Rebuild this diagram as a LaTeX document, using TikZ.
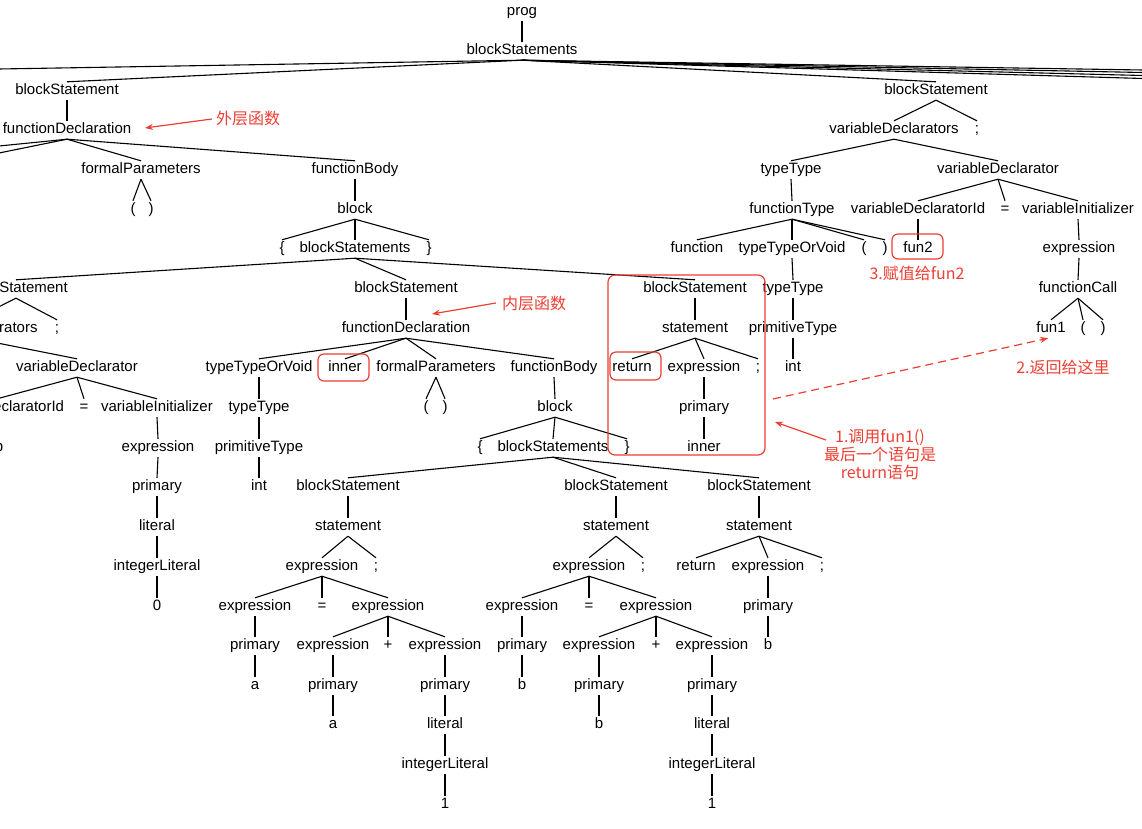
\documentclass[tikz,border=0pt]{standalone}
\usepackage{fontspec}
\setmainfont{Liberation Sans}
\newfontfamily\cjkfont{Noto Sans CJK SC}
\usetikzlibrary{arrows.meta}
\definecolor{annred}{RGB}{236,62,50}
\tikzset{
  tn/.style={inner xsep=0pt, inner ysep=2.25pt, text height=10.5pt, text depth=3pt, font=\fontsize{15}{18}\selectfont},
  ed/.style={line width=1.1pt, black},
  rbox/.style={draw=annred, line width=1.2pt, rounded corners=7pt},
  ann/.style={text=annred, inner sep=0pt, font=\cjkfont\fontsize{16}{18}\selectfont, align=center},
  rarrow/.style={draw=annred, line width=1.2pt, -{Stealth[length=8pt,width=6pt]}},
}
\begin{document}
\begin{tikzpicture}[x=1pt,y=-1pt]
\useasboundingbox (0,0) rectangle (1142,828);
\clip (0,0) rectangle (1142,828);
\begin{scope}[shift={(0,2)}]
% level 0-1
\node[tn] (pg) at (522,10) {prog};
\node[tn] (bs0) at (522,49) {blockStatements};
% level 2
\node[tn] (bsA) at (67,89) {blockStatement};
\node[tn] (bsB) at (936,89) {blockStatement};
% level 3
\node[tn] (fdA) at (67,128) {functionDeclaration};
\node[tn] (vdsB) at (894,128) {variableDeclarators};
\node[tn] (scB) at (977,128) {;};
% level 4
\node[tn] (fpA) at (141,168) {formalParameters};
\node[tn] (fbA) at (355,168) {functionBody};
\node[tn] (ttB) at (791,168) {typeType};
\node[tn] (vdB) at (998,168) {variableDeclarator};
% level 5
\node[tn] (lpA) at (133,208) {(};
\node[tn] (rpA) at (151,208) {)};
\node[tn] (blkA) at (355,208) {block};
\node[tn] (ftB) at (792,208) {functionType};
\node[tn] (vidB) at (918,208) {variableDeclaratorId};
\node[tn] (eqB) at (1005,208) {=};
\node[tn] (viB) at (1078,208) {variableInitializer};
% level 6
\node[tn] (lbA) at (282,247) {\{};
\node[tn] (bs1) at (355,247) {blockStatements};
\node[tn] (rbA) at (429,247) {\}};
\node[tn] (fnB) at (697,247) {function};
\node[tn] (ttvB) at (792,247) {typeTypeOrVoid};
\node[tn] (lpB) at (864,247) {(};
\node[tn] (rpB) at (885,247) {)};
\node[tn] (f2B) at (918,247) {fun2};
\node[tn] (exB) at (1079,247) {expression};
% level 7
\node[tn] (bsC) at (16,287) {blockStatement};
\node[tn] (bsD) at (406,287) {blockStatement};
\node[tn] (bsE) at (695,287) {blockStatement};
\node[tn] (tt2B) at (793,287) {typeType};
\node[tn] (fcB) at (1078,287) {functionCall};
% level 8
\node[tn] (vdsC) at (-27,327) {variableDeclarators};
\node[tn] (scC) at (57,327) {;};
\node[tn] (fdD) at (406,327) {functionDeclaration};
\node[tn] (stE) at (695,327) {statement};
\node[tn] (ptB) at (793,327) {primitiveType};
\node[tn] (f1B) at (1051,327) {fun1};
\node[tn] (lp2B) at (1083,327) {(};
\node[tn] (rp2B) at (1103,327) {)};
% level 9
\node[tn] (vdC) at (77,366) {variableDeclarator};
\node[tn] (ttvD) at (259,366) {typeTypeOrVoid};
\node[tn] (inD) at (345,366) {inner};
\node[tn] (fpD) at (436,366) {formalParameters};
\node[tn] (fbD) at (554,366) {functionBody};
\node[tn] (retE) at (632,366) {return};
\node[tn] (exE) at (704,366) {expression};
\node[tn] (scE) at (758,366) {;};
\node[tn] (intB) at (793,366) {int};
% level 10
\node[tn] (vidC) at (-3,406) {variableDeclaratorId};
\node[tn] (eqC) at (84,406) {=};
\node[tn] (viC) at (157,406) {variableInitializer};
\node[tn] (ttD) at (259,406) {typeType};
\node[tn] (lpD) at (426,406) {(};
\node[tn] (rpD) at (445,406) {)};
\node[tn] (blkD) at (555,406) {block};
\node[tn] (prE) at (704,406) {primary};
% level 11
\node[tn] (bC) at (-1,446) {b};
\node[tn] (exC) at (158,446) {expression};
\node[tn] (ptD) at (259,446) {primitiveType};
\node[tn] (lbD) at (480,446) {\{};
\node[tn] (bs2) at (553,446) {blockStatements};
\node[tn] (rbD) at (627,446) {\}};
\node[tn] (inE) at (704,446) {inner};
% level 12
\node[tn] (prC) at (157,485) {primary};
\node[tn] (intD) at (259,485) {int};
\node[tn] (bsF) at (348,485) {blockStatement};
\node[tn] (bsG) at (616,485) {blockStatement};
\node[tn] (bsH) at (759,485) {blockStatement};
% level 13
\node[tn] (ltC) at (157,525) {literal};
\node[tn] (stF) at (348,525) {statement};
\node[tn] (stG) at (616,525) {statement};
\node[tn] (stH) at (759,525) {statement};
% level 14
\node[tn] (ilC) at (157,565) {integerLiteral};
\node[tn] (exF) at (322,565) {expression};
\node[tn] (scF) at (376,565) {;};
\node[tn] (exG) at (589,565) {expression};
\node[tn] (scG) at (643,565) {;};
\node[tn] (retH) at (696,565) {return};
\node[tn] (exH) at (768,565) {expression};
\node[tn] (scH) at (822,565) {;};
% level 15
\node[tn] (zC) at (157,605) {0};
\node[tn] (exF1) at (255,605) {expression};
\node[tn] (eqF) at (322,605) {=};
\node[tn] (exF2) at (388,605) {expression};
\node[tn] (exG1) at (522,605) {expression};
\node[tn] (eqG) at (589,605) {=};
\node[tn] (exG2) at (656,605) {expression};
\node[tn] (prH) at (768,605) {primary};
% level 16
\node[tn] (prF1) at (255,644) {primary};
\node[tn] (exF3) at (333,644) {expression};
\node[tn] (plF) at (388,644) {+};
\node[tn] (exF4) at (445,644) {expression};
\node[tn] (prG1) at (522,644) {primary};
\node[tn] (exG3) at (599,644) {expression};
\node[tn] (plG) at (656,644) {+};
\node[tn] (exG4) at (712,644) {expression};
\node[tn] (bH) at (768,644) {b};
% level 17
\node[tn] (aF1) at (255,684) {a};
\node[tn] (prF3) at (333,684) {primary};
\node[tn] (prF4) at (445,684) {primary};
\node[tn] (bG1) at (522,684) {b};
\node[tn] (prG3) at (599,684) {primary};
\node[tn] (prG4) at (712,684) {primary};
% level 18
\node[tn] (aF3) at (333,723) {a};
\node[tn] (ltF) at (445,723) {literal};
\node[tn] (bG3) at (599,723) {b};
\node[tn] (ltG) at (712,723) {literal};
% level 19-20
\node[tn] (ilF) at (445,763) {integerLiteral};
\node[tn] (ilG) at (712,763) {integerLiteral};
\node[tn] (oneF) at (445,803) {1};
\node[tn] (oneG) at (712,803) {1};

% free ends of connectors leaving the picture
\coordinate (cL1) at (-1,67);
\coordinate (cL2) at (-1,144);
\coordinate (cL3) at (-1,151);
\coordinate (cR1) at (1143,68);
\coordinate (cR2) at (1143,70.5);
\coordinate (cR3) at (1143,73.5);
\coordinate (cR4) at (1143,76.5);
\foreach \c in {cL1,cR1,cR2,cR3,cR4} \draw[ed] (bs0.south) -- (\c);
\foreach \c in {cL2,cL3} \draw[ed] (fdA.south) -- (\c);

\foreach \p/\c in {pg/bs0, bs0/bsA, bs0/bsB, bsA/fdA, bsB/vdsB, bsB/scB,
  fdA/fpA, fdA/fbA, vdsB/ttB, vdsB/vdB, fpA/lpA, fpA/rpA, fbA/blkA, ttB/ftB,
  vdB/vidB, vdB/eqB, vdB/viB, blkA/lbA, blkA/bs1, blkA/rbA,
  ftB/fnB, ftB/ttvB, ftB/lpB, ftB/rpB, vidB/f2B, viB/exB,
  bs1/bsC, bs1/bsD, bs1/bsE, ttvB/tt2B, exB/fcB,
  bsC/vdsC, bsC/scC, bsD/fdD, bsE/stE, tt2B/ptB, fcB/f1B, fcB/lp2B, fcB/rp2B,
  vdsC/vdC, fdD/ttvD, fdD/inD, fdD/fpD, fdD/fbD, stE/retE, stE/exE, stE/scE, ptB/intB,
  vdC/vidC, vdC/eqC, vdC/viC, ttvD/ttD, fpD/lpD, fpD/rpD, fbD/blkD, exE/prE,
  vidC/bC, viC/exC, ttD/ptD, blkD/lbD, blkD/bs2, blkD/rbD, prE/inE,
  exC/prC, ptD/intD, bs2/bsF, bs2/bsG, bs2/bsH,
  prC/ltC, bsF/stF, bsG/stG, bsH/stH,
  ltC/ilC, stF/exF, stF/scF, stG/exG, stG/scG, stH/retH, stH/exH, stH/scH,
  ilC/zC, exF/exF1, exF/eqF, exF/exF2, exG/exG1, exG/eqG, exG/exG2, exH/prH,
  exF1/prF1, exF2/exF3, exF2/plF, exF2/exF4, exG1/prG1, exG2/exG3, exG2/plG, exG2/exG4, prH/bH,
  prF1/aF1, exF3/prF3, exF4/prF4, prG1/bG1, exG3/prG3, exG4/prG4,
  prF3/aF3, prF4/ltF, prG3/bG3, prG4/ltG, ltF/ilF, ltG/ilG, ilF/oneF, ilG/oneG}
  \draw[ed] (\p.south) -- (\c.north);
\end{scope}

% red highlight boxes
\draw[rbox] (608,275) rectangle (765,455);
\draw[rbox, rounded corners=6pt] (610,352) rectangle (661,380);
\draw[rbox, rounded corners=6pt] (318,354) rectangle (369,381);
\draw[rbox, rounded corners=6pt] (892,234) rectangle (943,259);

% annotations
\node[ann] (aOut) at (248,118) {外层函数};
\coordinate (aOutTip) at (145,128);
\draw[rarrow] (aOut.west) ++(-4,1) -- (aOutTip);
\node[ann] (aIn) at (534,303) {内层函数};
\coordinate (aInTip) at (432,314);
\draw[rarrow] (aIn.west) ++(-6,0) -- (aInTip);
\node[ann] (aThree) at (917,273) {3.赋值给fun2};
\node[ann] (aTwo) at (1063,367) {2.返回给这里};
\node[ann] (aOne) at (880,455) {1.调用fun1()\\最后一个语句是\\return语句};
\coordinate (aOneTip) at (775,422);
\draw[rarrow] (826,440) -- (aOneTip);
\coordinate (dStart) at (773,399);
\draw[rarrow, dashed, dash pattern=on 8pt off 5pt] (dStart) -- ([xshift=12pt]f1B.south west);
\end{tikzpicture}
\end{document}
